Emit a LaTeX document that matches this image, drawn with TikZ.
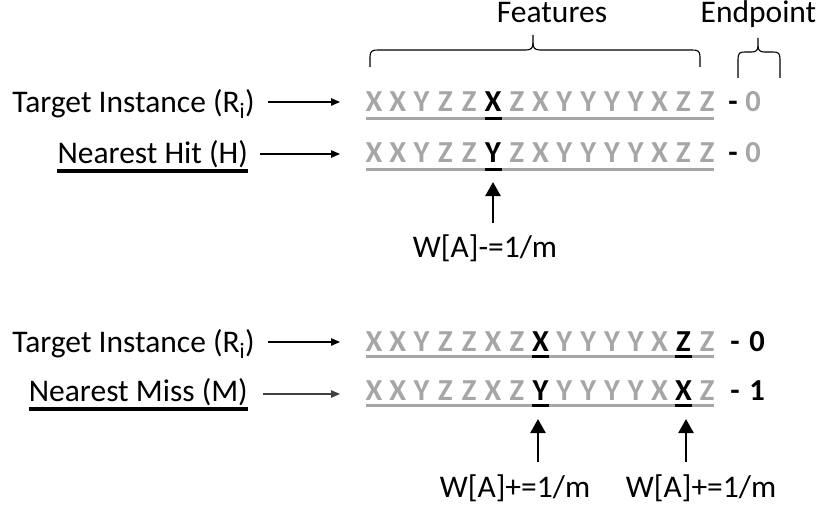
\documentclass[tikz,border=0pt]{standalone}
\usepackage{fontspec}
\setmainfont{Carlito}
\usetikzlibrary{arrows.meta}
\definecolor{lgray}{RGB}{166,166,166}
\begin{document}
\begin{tikzpicture}[x=1pt,y=-1pt,
  lbl/.style={font=\fontsize{31.5}{36}\selectfont, inner sep=0pt, anchor=base},
  let/.style={font=\fontsize{30.5}{36}\selectfont\bfseries, inner sep=0pt, anchor=base},
  larrow/.style={-{Triangle[length=9pt,width=7.5pt]}, line width=1.1pt},
  uarrow/.style={-{Triangle[length=14pt,width=15pt]}, line width=2.5pt},
  uline/.style={line width=3pt, lgray},
  bline/.style={line width=3pt, black},
  nline/.style={line width=3.5pt, black},
  brace/.style={line width=1.1pt, black},
]
\useasboundingbox (0,0) rectangle (822,511);

% header labels
\node[lbl] (feat) at (552,23) {Features};
\node[lbl] (endp) at (758.5,23) {Endpoint};

% braces
\draw[brace] (370,67) -- (370,57) .. controls (370,51) and (372,50) .. (378,50) -- (526,50)
  .. controls (531,50) and (533,48) .. (533,43) -- (533,35);
\draw[brace] (700,67) -- (700,57) .. controls (700,51) and (698,50) .. (692,50) -- (540,50)
  .. controls (535,50) and (533,48) .. (533,43);
\draw[brace] (738,78) -- (738,59) .. controls (738,53) and (740,52) .. (745,52) -- (752,52)
  .. controls (756,52) and (758,50) .. (758,46) -- (758,38);
\draw[brace] (780,78) -- (780,59) .. controls (780,53) and (778,52) .. (773,52) -- (764,52)
  .. controls (760,52) and (758,50) .. (758,46);

% ---------- upper block ----------
\node[lbl, anchor=base east] (t1) at (255,112) {Target Instance (R\textsubscript{i})};
\node[lbl, anchor=base east] (nh) at (248,163) {Nearest Hit (H)};
\draw[nline] ([yshift=-8pt]nh.base west) -- ([yshift=-8pt]nh.base east);

\draw[uline] (366,118) -- (714,118);
\draw[uline] (366,169) -- (714,169);
\foreach \c/\col [count=\i from 0] in {X/lgray,X/lgray,Y/lgray,Z/lgray,Z/lgray,X/black,Z/lgray,X/lgray,Y/lgray,Y/lgray,Y/lgray,Y/lgray,X/lgray,Z/lgray,Z/lgray}
  \node[let, text=\col] (ra\i) at (374+\i*23.8,111) {\c};
\foreach \c/\col [count=\i from 0] in {X/lgray,X/lgray,Y/lgray,Z/lgray,Z/lgray,Y/black,Z/lgray,X/lgray,Y/lgray,Y/lgray,Y/lgray,Y/lgray,X/lgray,Z/lgray,Z/lgray}
  \node[let, text=\col] (rb\i) at (374+\i*23.8,162) {\c};
\draw[bline] ([xshift=-8.5pt,yshift=-7pt]ra5.base) -- ([xshift=8.5pt,yshift=-7pt]ra5.base);
\draw[bline] ([xshift=-8.5pt,yshift=-7pt]rb5.base) -- ([xshift=8.5pt,yshift=-7pt]rb5.base);

\node[let] (da) at (733,111) {-};
\node[let, text=lgray] (ea) at (753,111) {0};
\node[let] (db) at (733,162) {-};
\node[let, text=lgray] (eb) at (753,162) {0};

\coordinate (a1s) at (268,102); \coordinate (a1e) at (340,102);
\coordinate (a2s) at (260,154); \coordinate (a2e) at (340,154);
\draw[larrow] (a1s) -- (a1e);
\draw[larrow] (a2s) -- (a2e);

\node[lbl] (w1) at (485,257) {W[A]-=1/m};
\coordinate (u1s) at (493,223); \coordinate (u1e) at (493,182);
\draw[uarrow] (u1s) -- (u1e);

% ---------- lower block ----------
\node[lbl, anchor=base east] (t2) at (255,352) {Target Instance (R\textsubscript{i})};
\node[lbl, anchor=base east] (nm) at (248,401) {Nearest Miss (M)};
\draw[nline] ([yshift=-8pt]nm.base west) -- ([yshift=-8pt]nm.base east);

\draw[uline] (366,356) -- (714,356);
\draw[uline] (366,405) -- (714,405);
\foreach \c/\col [count=\i from 0] in {X/lgray,X/lgray,Y/lgray,Z/lgray,Z/lgray,X/lgray,Z/lgray,X/black,Y/lgray,Y/lgray,Y/lgray,Y/lgray,X/lgray,Z/black,Z/lgray}
  \node[let, text=\col] (rc\i) at (374+\i*23.8,351) {\c};
\foreach \c/\col [count=\i from 0] in {X/lgray,X/lgray,Y/lgray,Z/lgray,Z/lgray,X/lgray,Z/lgray,Y/black,Y/lgray,Y/lgray,Y/lgray,Y/lgray,X/lgray,X/black,Z/lgray}
  \node[let, text=\col] (rd\i) at (374+\i*23.8,400) {\c};
\foreach \r in {rc,rd}{
  \foreach \k in {7,13}
    \draw[bline] ([xshift=-8.5pt,yshift=-5pt]\r\k.base) -- ([xshift=8.5pt,yshift=-5pt]\r\k.base);
}

\node[let] (dc) at (735,351) {-};
\node[let] (ec) at (757,351) {0};
\node[let] (dd) at (735,400) {-};
\node[let] (ed) at (757,400) {1};

\coordinate (a3s) at (268,342); \coordinate (a3e) at (340,342);
\coordinate (a4s) at (263,394); \coordinate (a4e) at (340,394);
\draw[larrow] (a3s) -- (a3e);
\draw[larrow, black!75] (a4s) -- (a4e);

\node[lbl] (w2) at (515,497) {W[A]+=1/m};
\node[lbl] (w3) at (701,497) {W[A]+=1/m};
\coordinate (u2s) at (538,462); \coordinate (u2e) at (538,419);
\coordinate (u3s) at (686,462); \coordinate (u3e) at (686,419);
\draw[uarrow] (u2s) -- (u2e);
\draw[uarrow] (u3s) -- (u3e);
\end{tikzpicture}
\end{document}
